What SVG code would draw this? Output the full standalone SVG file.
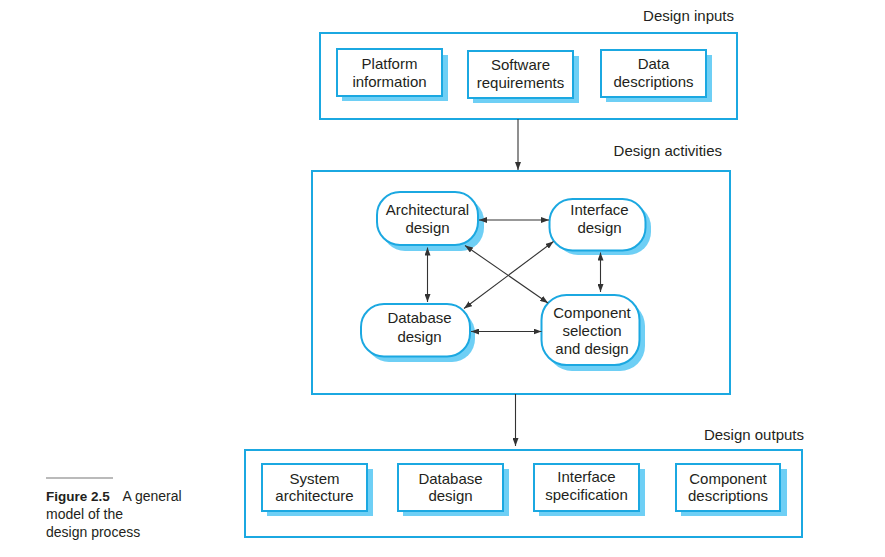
<svg xmlns="http://www.w3.org/2000/svg" width="885" height="557" viewBox="0 0 885 557">
<defs>
<style>
.cont{fill:none;stroke:#1ba8e1;stroke-width:2}
.box{fill:#fff;stroke:#1ba8e1;stroke-width:2}
.sh{fill:#6ecff5;stroke:none}
.t{font-family:"Liberation Sans",Arial,sans-serif;font-size:15px;fill:#231f20;text-anchor:middle}
.lbl{font-family:"Liberation Sans",Arial,sans-serif;font-size:15px;fill:#231f20;text-anchor:end}
.cap{font-family:"Liberation Sans",Arial,sans-serif;font-size:14px;fill:#231f20}
.c{stroke:#333;stroke-width:1.1;fill:none}
</style>
<marker id="ah" viewBox="0 0 8 6" refX="8" refY="3" markerWidth="8" markerHeight="6" markerUnits="userSpaceOnUse" orient="auto-start-reverse">
<path d="M0,0 L8,3 L0,6 z" fill="#333"/>
</marker>
</defs>

<rect width="885" height="557" fill="#fff"/>

<!-- containers -->
<g id="inputs">
<rect class="cont" x="320" y="33" width="417" height="86"/>
<text class="lbl" x="734" y="21">Design inputs</text>
</g>
<g id="activities">
<rect class="cont" x="312" y="171" width="418" height="223"/>
<text class="lbl" x="722" y="156">Design activities</text>
</g>
<g id="outputs">
<rect class="cont" x="245" y="450" width="557" height="87"/>
<text class="lbl" x="804" y="440">Design outputs</text>
</g>

<!-- input boxes -->
<g id="platform">
<rect class="sh" x="342" y="55" width="106" height="46"/>
<rect class="box" x="337" y="49" width="105" height="47"/>
<text class="t" x="389.5" y="68.5">Platform</text>
<text class="t" x="389.5" y="86.5">information</text>
</g>
<g id="software">
<rect class="sh" x="473" y="56" width="106" height="47"/>
<rect class="box" x="468" y="51" width="105" height="47"/>
<text class="t" x="520.5" y="69.5">Software</text>
<text class="t" x="520.5" y="87.5">requirements</text>
</g>
<g id="data">
<rect class="sh" x="606" y="55" width="106" height="47"/>
<rect class="box" x="601" y="50" width="105" height="47"/>
<text class="t" x="653.5" y="68.5">Data</text>
<text class="t" x="653.5" y="86.5">descriptions</text>
</g>

<!-- activity nodes -->
<g id="architectural">
<rect class="sh" x="382" y="198" width="102" height="53" rx="23"/>
<rect class="box" x="377" y="192" width="101" height="53" rx="23"/>
<text class="t" x="427.5" y="215">Architectural</text>
<text class="t" x="427.5" y="233">design</text>
</g>
<g id="interface">
<rect class="sh" x="555" y="204" width="96" height="51" rx="23"/>
<rect class="box" x="549.5" y="199" width="96" height="51.5" rx="23"/>
<text class="t" x="599.5" y="215">Interface</text>
<text class="t" x="599.5" y="233">design</text>
</g>
<g id="database">
<rect class="sh" x="366" y="310" width="109" height="52" rx="23"/>
<rect class="box" x="361" y="304" width="109" height="52.5" rx="23"/>
<text class="t" x="419.5" y="323">Database</text>
<text class="t" x="419.5" y="341.5">design</text>
</g>
<g id="component">
<rect class="sh" x="547" y="301" width="98" height="70" rx="25"/>
<rect class="box" x="541.5" y="295" width="98" height="70" rx="25"/>
<text class="t" x="592" y="317.5">Component</text>
<text class="t" x="592" y="335.5">selection</text>
<text class="t" x="592" y="353.5">and design</text>
</g>

<!-- output boxes -->
<g id="sysarch">
<rect class="sh" x="267" y="469" width="106" height="47"/>
<rect class="box" x="262" y="464" width="105" height="47"/>
<text class="t" x="314.5" y="483.5">System</text>
<text class="t" x="314.5" y="500.5">architecture</text>
</g>
<g id="dbdesign">
<rect class="sh" x="403" y="469" width="106" height="47"/>
<rect class="box" x="398" y="464" width="105" height="47"/>
<text class="t" x="450.5" y="483.5">Database</text>
<text class="t" x="450.5" y="500.5">design</text>
</g>
<g id="ifspec">
<rect class="sh" x="539" y="469" width="106" height="47"/>
<rect class="box" x="534" y="464" width="105" height="47"/>
<text class="t" x="586.5" y="482">Interface</text>
<text class="t" x="586.5" y="499.5">specification</text>
</g>
<g id="compdesc">
<rect class="sh" x="681" y="469" width="106" height="47"/>
<rect class="box" x="676" y="464" width="104" height="47"/>
<text class="t" x="728" y="483.5">Component</text>
<text class="t" x="728" y="500.5">descriptions</text>
</g>

<!-- connectors -->
<g id="connectors">
<line class="c" x1="518" y1="119" x2="518" y2="170" marker-end="url(#ah)"/>
<line class="c" x1="515.5" y1="394" x2="515.5" y2="446" marker-end="url(#ah)"/>
<line class="c" x1="479" y1="220" x2="549" y2="220" marker-start="url(#ah)" marker-end="url(#ah)"/>
<line class="c" x1="427.5" y1="247.5" x2="427.5" y2="302" marker-start="url(#ah)" marker-end="url(#ah)"/>
<line class="c" x1="600.5" y1="252.5" x2="600.5" y2="292" marker-start="url(#ah)" marker-end="url(#ah)"/>
<line class="c" x1="471" y1="331.5" x2="541.5" y2="331.5" marker-start="url(#ah)" marker-end="url(#ah)"/>
<line class="c" x1="465" y1="245.5" x2="548" y2="303" marker-start="url(#ah)" marker-end="url(#ah)"/>
<line class="c" x1="553.5" y1="241.5" x2="464" y2="308.5" marker-start="url(#ah)" marker-end="url(#ah)"/>
</g>

<!-- caption -->
<g id="caption">
<line x1="46" y1="478" x2="113" y2="478" stroke="#777" stroke-width="1.2"/>
<text class="cap" x="46" y="501"><tspan font-weight="bold" font-size="13.5">Figure 2.5</tspan><tspan x="122.5">A general</tspan></text>
<text class="cap" x="46" y="519">model of the</text>
<text class="cap" x="46" y="537">design process</text>
</g>
</svg>
